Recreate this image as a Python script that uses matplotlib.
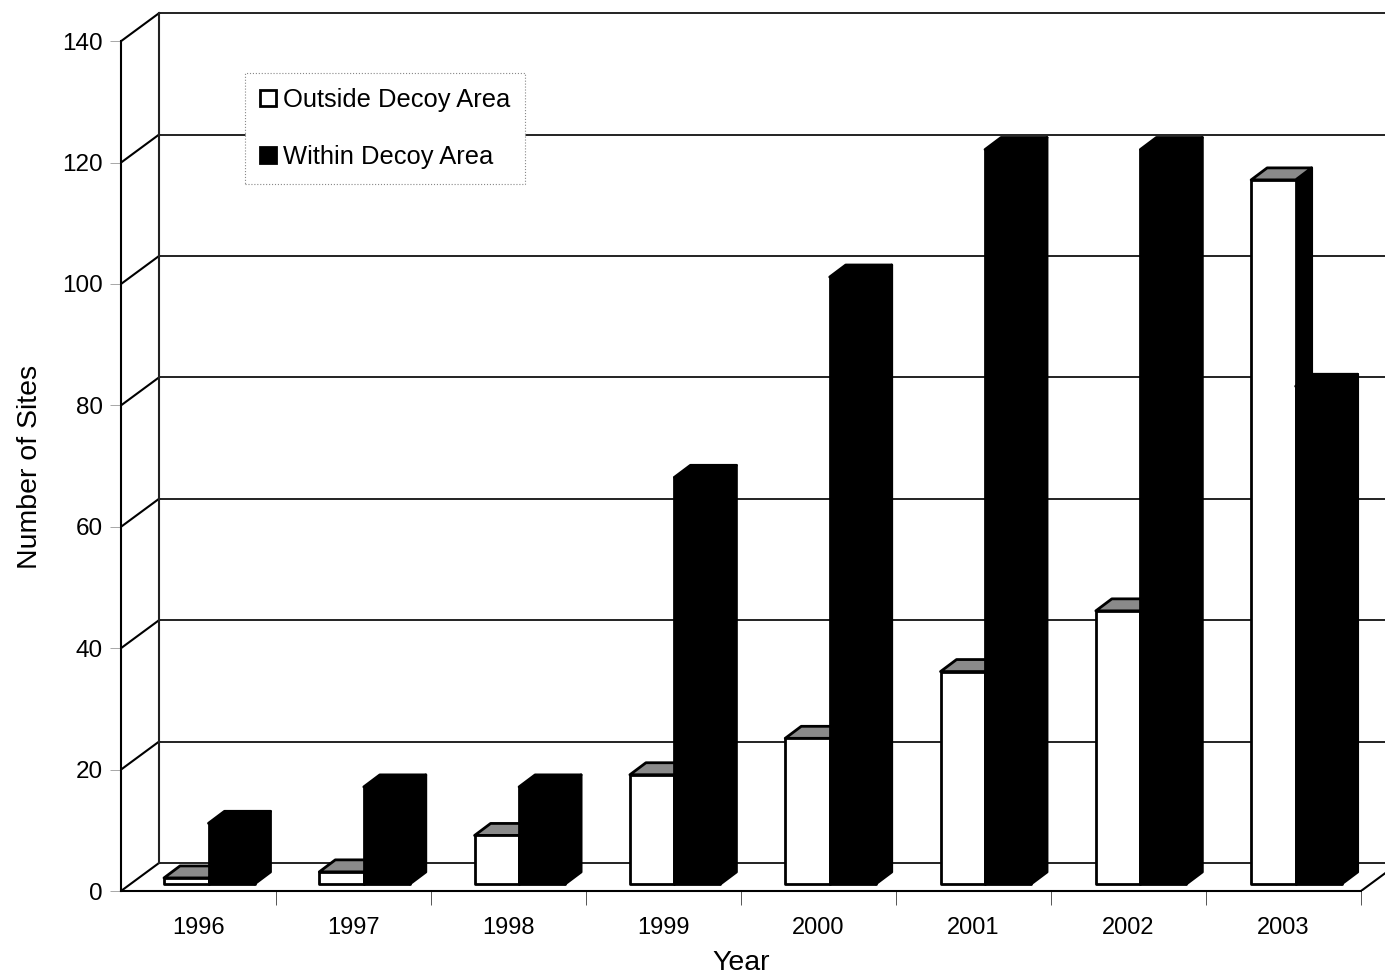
import matplotlib
matplotlib.use("Agg")
import matplotlib.pyplot as plt
from matplotlib.patches import Patch, Polygon

plt.rcParams['font.family'] = ['Liberation Sans', 'DejaVu Sans']

years = ['1996', '1997', '1998', '1999', '2000', '2001', '2002', '2003']
outside = [1, 2, 8, 18, 24, 35, 45, 116]
within = [10, 16, 16, 67, 100, 121, 121, 82]
y_ticks = [0, 20, 40, 60, 80, 100, 120, 140]

# picture scale of the chart, pixels per category and per site
W, H = 1385, 977
PX_CAT = 155.0
PX_VAL = 6.07
LEFT, BASE = 121, 891

fig = plt.figure(figsize=(W / 100, H / 100), dpi=100)
ax = fig.add_axes([LEFT / W, (H - BASE) / H, (W - LEFT) / W, BASE / H])
ax.set_xlim(0, (W - LEFT) / PX_CAT)
ax.set_ylim(0, BASE / PX_VAL)


def ox(px):
    return px / PX_CAT


def oy(px):
    return px / PX_VAL


# walls and floor, the back wall sits 38 px right and 28 px up
back_x, back_y = ox(38), oy(28)
xmax = ax.get_xlim()[1]
for t in y_ticks:
    ax.plot([back_x, xmax], [t + back_y, t + back_y], color='#111111', lw=1.3, zorder=1)
    ax.plot([0, back_x], [t, t + back_y], color='black', lw=1.5, zorder=1)
ax.plot([back_x, back_x], [back_y, 140 + back_y], color='#222222', lw=1.5, zorder=1)
ax.plot([8, 8 + back_x], [0, back_y], color='black', lw=1.5, zorder=1)


def draw_bar(x0, x1, val, face, top, z):
    # base of the bars stands a bit in from the front edge of the floor
    by = oy(7)
    dx, dy = ox(16), oy(12)
    y1 = val + by
    ax.add_patch(Polygon([(x1, by), (x1 + dx, by + dy), (x1 + dx, y1 + dy), (x1, y1)],
                         fc='black', ec='black', lw=2, joinstyle='round', zorder=z))
    ax.add_patch(Polygon([(x0, y1), (x0 + dx, y1 + dy), (x1 + dx, y1 + dy), (x1, y1)],
                         fc=top, ec='black', lw=2, joinstyle='round', zorder=z))
    ax.add_patch(Polygon([(x0, by), (x1, by), (x1, y1), (x0, y1)],
                         fc=face, ec='black', lw=2, joinstyle='round', zorder=z))


for i in range(len(years)):
    x0 = i * 1.002 + ox(43)
    xm = x0 + ox(44.5)
    x1 = xm + ox(46)
    draw_bar(x0, xm, outside[i], 'white', '#8a8a8a', 3 + i * 2)
    draw_bar(xm, x1, within[i], 'black', 'black', 4 + i * 2)

for side in ['top', 'right']:
    ax.spines[side].set_visible(False)
ax.spines['left'].set_bounds(0, 140)
ax.spines['bottom'].set_bounds(0, 8)
ax.spines['left'].set_linewidth(1.5)
ax.spines['bottom'].set_linewidth(1.5)

ax.set_yticks(y_ticks)
ax.set_xticks(range(1, 9))
ax.set_xticklabels([])
ax.set_xticks([i + 0.5 for i in range(8)], minor=True)
ax.set_xticklabels(years, minor=True, fontsize=17)
ax.tick_params(axis='x', which='major', length=10, width=0.7, color='#555555')
ax.tick_params(axis='x', which='minor', length=0, pad=18.5)
ax.tick_params(axis='y', length=8, width=0.6, color='#999999', labelsize=17.5, pad=5)

fig.text(741 / W, 1 - 963 / H, 'Year', fontsize=20.5, ha='center', va='center')
fig.text(30 / W, 1 - 467 / H, 'Number of Sites', fontsize=20.5, rotation=90, ha='center', va='center')

handles = [Patch(fc='white', ec='black', lw=2), Patch(fc='black', ec='black', lw=2)]
leg = ax.legend(handles, ['Outside Decoy Area', 'Within Decoy Area'],
                loc='upper left', bbox_to_anchor=(245 / W, 1 - 73 / H), bbox_transform=fig.transFigure,
                fontsize=18.4, handlelength=0.62, handleheight=0.62, handletextpad=0.3,
                labelspacing=1.3, borderpad=0.58, borderaxespad=0, fancybox=False, framealpha=1)
leg.get_frame().set_edgecolor('#888888')
leg.get_frame().set_linestyle(':')
leg.get_frame().set_linewidth(0.8)
leg.set_zorder(30)

fig.savefig('out.png', dpi=100)
